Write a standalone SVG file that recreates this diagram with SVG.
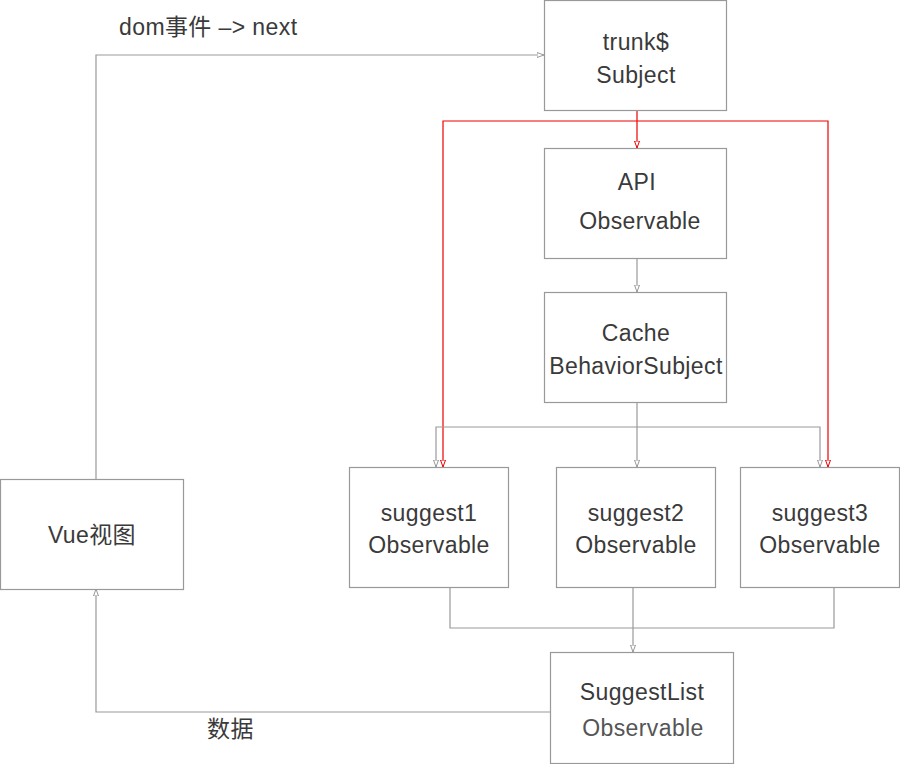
<svg xmlns="http://www.w3.org/2000/svg" width="900" height="764" viewBox="0 0 900 764">
<style>
.box{fill:#fff;stroke:#999;stroke-width:1.2}
.t{font-family:"Liberation Sans","Noto Sans CJK SC",sans-serif;font-size:23px;fill:#3a3a3a;text-anchor:middle;letter-spacing:0.4px}
.g{fill:none;stroke:#999;stroke-width:1.2}
.r{fill:none;stroke:#e00;stroke-width:1.2}
</style>
<defs>
<marker id="ag" markerWidth="8" markerHeight="12" refX="7" refY="4" orient="auto" markerUnits="userSpaceOnUse" viewBox="0 0 8 8">
<path d="M0,1.5 L7,4 L0,6.5 Z" fill="#fff" stroke="#999" stroke-width="1"/>
</marker>
<marker id="ar" markerWidth="8" markerHeight="12" refX="7" refY="4" orient="auto" markerUnits="userSpaceOnUse" viewBox="0 0 8 8">
<path d="M0,1.5 L7,4 L0,6.5 Z" fill="#fff" stroke="#e00" stroke-width="1"/>
</marker>
</defs>
<g id="connectors">
<path class="r" d="M637,110 V148" marker-end="url(#ar)"/>
<path class="r" d="M637,121 H443 V467" marker-end="url(#ar)"/>
<path class="r" d="M637,121 H828 V467" marker-end="url(#ar)"/>
<path class="g" d="M637,259 V292" marker-end="url(#ag)"/>
<path class="g" d="M637,403 V467" marker-end="url(#ag)"/>
<path class="g" d="M637,427 H436 V467" marker-end="url(#ag)"/>
<path class="g" d="M637,427 H820 V467" marker-end="url(#ag)"/>
<path class="g" d="M450,587 V628 H834 V587"/>
<path class="g" d="M633,587 V652" marker-end="url(#ag)"/>
<path class="g" d="M550,712 H96 V589" marker-end="url(#ag)"/>
<path class="g" d="M96,479 V55 H544" marker-end="url(#ag)"/>
<text class="t" x="119" y="35" style="text-anchor:start">dom事件 –&gt; next</text>
<text class="t" x="207" y="737" style="text-anchor:start">数据</text>
</g>
<g id="trunk"><rect class="box" x="544.5" y="0.5" width="182" height="110"/><text class="t" x="636" y="50">trunk$</text><text class="t" x="636" y="83">Subject</text></g>
<g id="api"><rect class="box" x="544.5" y="148.5" width="182" height="110"/><text class="t" x="637" y="190">API</text><text class="t" x="640" y="229">Observable</text></g>
<g id="cache"><rect class="box" x="544.5" y="292.5" width="182" height="110"/><text class="t" x="636" y="341">Cache</text><text class="t" x="636" y="374">BehaviorSubject</text></g>
<g id="suggest1"><rect class="box" x="349.5" y="467.5" width="159" height="120"/><text class="t" x="429" y="521">suggest1</text><text class="t" x="429" y="553">Observable</text></g>
<g id="suggest2"><rect class="box" x="556.5" y="467.5" width="159" height="120"/><text class="t" x="636" y="521">suggest2</text><text class="t" x="636" y="553">Observable</text></g>
<g id="suggest3"><rect class="box" x="740.5" y="467.5" width="159" height="120"/><text class="t" x="820" y="521">suggest3</text><text class="t" x="820" y="553">Observable</text></g>
<g id="vue"><rect class="box" x="0.5" y="479.5" width="183" height="110"/><text class="t" x="92" y="543">Vue视图</text></g>
<g id="suggestlist"><rect class="box" x="550.5" y="652.5" width="183" height="111"/><text class="t" x="642" y="700">SuggestList</text><text class="t" x="643" y="736" style="fill:#555">Observable</text></g>
</svg>
